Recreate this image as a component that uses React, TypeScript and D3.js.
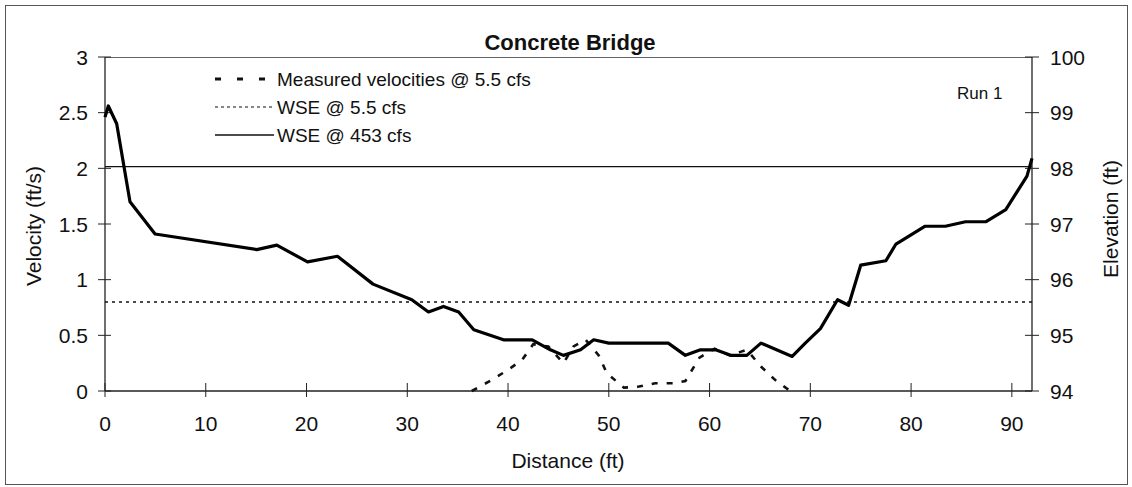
import React, { useEffect, useRef } from 'react';
import * as d3 from 'd3';

// Ground profile (distance ft, elevation ft)
const groundDistance = [
  0, 0.33, 1.16, 2.48, 4.97, 15.06, 17.05, 20.1, 23.07, 26.6, 30.45, 32.1, 33.6, 35.1, 36.6,
  39.55, 42.4, 44.2, 45.5, 47.2, 48.5, 50.0, 55.9, 57.6, 59.1, 60.6, 62.1, 63.7, 65.1, 68.2,
  69.5, 71.0, 72.7, 73.8, 75.0, 77.5, 78.5, 81.4, 83.4, 85.4, 87.4, 89.4, 91.5, 92.0,
];
const groundElevation = [
  98.92, 99.12, 98.8, 97.4, 96.82, 96.54, 96.62, 96.32, 96.42, 95.92, 95.64, 95.42, 95.52, 95.42, 95.1,
  94.92, 94.92, 94.74, 94.64, 94.74, 94.92, 94.86, 94.86, 94.64, 94.74, 94.74, 94.64, 94.64, 94.86, 94.62,
  94.86, 95.12, 95.64, 95.54, 96.26, 96.34, 96.64, 96.96, 96.96, 97.04, 97.04, 97.26, 97.86, 98.18,
];

// Measured velocities @ 5.5 cfs
const velDistance = [
  36.4, 38.4, 40, 41.4, 42.5, 44, 45.5, 46.5, 47.7, 49, 49.8, 51.5, 53, 54.6, 56.4, 57.6,
  59, 60.5, 62, 63.7, 65.1, 66.5, 68,
];
const velValue = [
  0, 0.1, 0.19, 0.28, 0.42, 0.4, 0.25, 0.4, 0.46, 0.32, 0.16, 0.03, 0.04, 0.07, 0.07, 0.09,
  0.3, 0.38, 0.32, 0.37, 0.22, 0.1, 0,
];

const wseLow = 95.6;
const wseHigh = 98.03;

const xTicks = [0, 10, 20, 30, 40, 50, 60, 70, 80, 90];
const velTicks = [0, 0.5, 1, 1.5, 2, 2.5, 3];
const elevTicks = [94, 95, 96, 97, 98, 99, 100];

const legendLabels = ['Measured velocities @ 5.5 cfs', 'WSE @ 5.5 cfs', 'WSE @ 453 cfs'];

const W = 1132;
const H = 487;
const FONT = '"Liberation Sans", Arial, sans-serif';

const App: React.FC = () => {
  const svgRef = useRef<SVGSVGElement>(null);

  useEffect(() => {
    const svg = d3.select(svgRef.current);
    svg.selectAll('*').remove();

    const left = 105;
    const right = 1032;
    const top = 57;
    const bottom = 391;

    const x = d3.scaleLinear().domain([0, 92]).range([left, right]);
    const yV = d3.scaleLinear().domain([0, 3]).range([bottom, top]);
    const yE = d3.scaleLinear().domain([94, 100]).range([bottom, top]);

    // outer frame
    svg.append('rect')
      .attr('x', 5.5).attr('y', 5.5)
      .attr('width', 1122).attr('height', 479)
      .attr('fill', 'white')
      .attr('stroke', '#555').attr('stroke-width', 1);

    // plot box top line
    svg.append('line')
      .attr('x1', left).attr('x2', right)
      .attr('y1', top + 0.5).attr('y2', top + 0.5)
      .attr('stroke', '#666').attr('stroke-width', 1);

    // axes lines
    svg.append('line')
      .attr('x1', left).attr('x2', left).attr('y1', top).attr('y2', bottom)
      .attr('stroke', '#222').attr('stroke-width', 1.3);
    svg.append('line')
      .attr('x1', right).attr('x2', right).attr('y1', top).attr('y2', bottom)
      .attr('stroke', '#222').attr('stroke-width', 1.3);
    svg.append('line')
      .attr('x1', left).attr('x2', right).attr('y1', bottom).attr('y2', bottom)
      .attr('stroke', '#222').attr('stroke-width', 1.3);

    // ticks left
    velTicks.forEach(t => {
      svg.append('line')
        .attr('x1', left - 7).attr('x2', left + 6)
        .attr('y1', yV(t)).attr('y2', yV(t))
        .attr('stroke', '#222').attr('stroke-width', 1);
      svg.append('text')
        .attr('x', 88).attr('y', yV(t))
        .attr('text-anchor', 'end').attr('dominant-baseline', 'central')
        .attr('font-family', FONT).attr('font-size', 21).attr('fill', '#111')
        .text(String(t));
    });

    // ticks right
    elevTicks.forEach(t => {
      svg.append('line')
        .attr('x1', right - 7).attr('x2', right + 7)
        .attr('y1', yE(t)).attr('y2', yE(t))
        .attr('stroke', '#222').attr('stroke-width', 1);
      svg.append('text')
        .attr('x', 1050).attr('y', yE(t))
        .attr('text-anchor', 'start').attr('dominant-baseline', 'central')
        .attr('font-family', FONT).attr('font-size', 21).attr('fill', '#111')
        .text(String(t));
    });

    // ticks bottom
    xTicks.forEach(t => {
      svg.append('line')
        .attr('x1', x(t)).attr('x2', x(t))
        .attr('y1', bottom - 8).attr('y2', bottom + 6)
        .attr('stroke', '#222').attr('stroke-width', 1);
      svg.append('text')
        .attr('x', x(t)).attr('y', 423)
        .attr('text-anchor', 'middle').attr('dominant-baseline', 'central')
        .attr('font-family', FONT).attr('font-size', 21).attr('fill', '#111')
        .text(String(t));
    });

    // WSE @ 453 cfs
    svg.append('line')
      .attr('x1', left).attr('x2', right)
      .attr('y1', yE(wseHigh)).attr('y2', yE(wseHigh))
      .attr('stroke', '#111').attr('stroke-width', 1.3);

    // WSE @ 5.5 cfs
    svg.append('line')
      .attr('x1', left).attr('x2', right)
      .attr('y1', yE(wseLow)).attr('y2', yE(wseLow))
      .attr('stroke', '#111').attr('stroke-width', 1.4)
      .attr('stroke-dasharray', '3,4');

    // measured velocities
    const velLine = d3.line<number>()
      .x((_, i) => x(velDistance[i]))
      .y(d => yV(d));
    svg.append('path')
      .attr('d', velLine(velValue) || '')
      .attr('fill', 'none')
      .attr('stroke', '#111').attr('stroke-width', 2.6)
      .attr('stroke-dasharray', '6,9');

    // ground profile
    const groundLine = d3.line<number>()
      .x((_, i) => x(groundDistance[i]))
      .y(d => yE(d));
    svg.append('path')
      .attr('d', groundLine(groundElevation) || '')
      .attr('fill', 'none')
      .attr('stroke', '#000').attr('stroke-width', 3.2)
      .attr('stroke-linejoin', 'round');

    // title
    svg.append('text')
      .attr('x', 570).attr('y', 42)
      .attr('text-anchor', 'middle').attr('dominant-baseline', 'central')
      .attr('font-family', FONT).attr('font-size', 22).attr('font-weight', 'bold')
      .attr('fill', '#111')
      .text('Concrete Bridge');

    // legend
    const legendY = [79, 107, 135];
    const dashes = ['6,16', '3,3', null];
    const widths = [3.2, 1.2, 1.3];
    legendLabels.forEach((label, i) => {
      const ln = svg.append('line')
        .attr('x1', i === 0 ? 215 : 215).attr('x2', i === 0 ? 266 : 274)
        .attr('y1', legendY[i]).attr('y2', legendY[i])
        .attr('stroke', '#111').attr('stroke-width', widths[i]);
      if (dashes[i]) ln.attr('stroke-dasharray', dashes[i] as string);
      svg.append('text')
        .attr('x', 277).attr('y', legendY[i])
        .attr('dominant-baseline', 'central')
        .attr('font-family', FONT).attr('font-size', 19).attr('fill', '#111')
        .text(label);
    });

    // Run 1
    svg.append('text')
      .attr('x', 957).attr('y', 93)
      .attr('dominant-baseline', 'central')
      .attr('font-family', FONT).attr('font-size', 17).attr('fill', '#111')
      .text('Run 1');

    // axis titles
    svg.append('text')
      .attr('transform', `translate(33,226) rotate(-90)`)
      .attr('text-anchor', 'middle').attr('dominant-baseline', 'central')
      .attr('font-family', FONT).attr('font-size', 21).attr('fill', '#111')
      .text('Velocity (ft/s)');
    svg.append('text')
      .attr('transform', `translate(1110,219) rotate(-90)`)
      .attr('text-anchor', 'middle').attr('dominant-baseline', 'central')
      .attr('font-family', FONT).attr('font-size', 21).attr('fill', '#111')
      .text('Elevation (ft)');
    svg.append('text')
      .attr('x', 568).attr('y', 460)
      .attr('text-anchor', 'middle').attr('dominant-baseline', 'central')
      .attr('font-family', FONT).attr('font-size', 21).attr('fill', '#111')
      .text('Distance (ft)');
  }, []);

  return (
    <svg
      ref={svgRef}
      width={W}
      height={H}
      style={{ position: 'absolute', left: 0, top: 0, background: 'white' }}
    />
  );
};

export default App;
